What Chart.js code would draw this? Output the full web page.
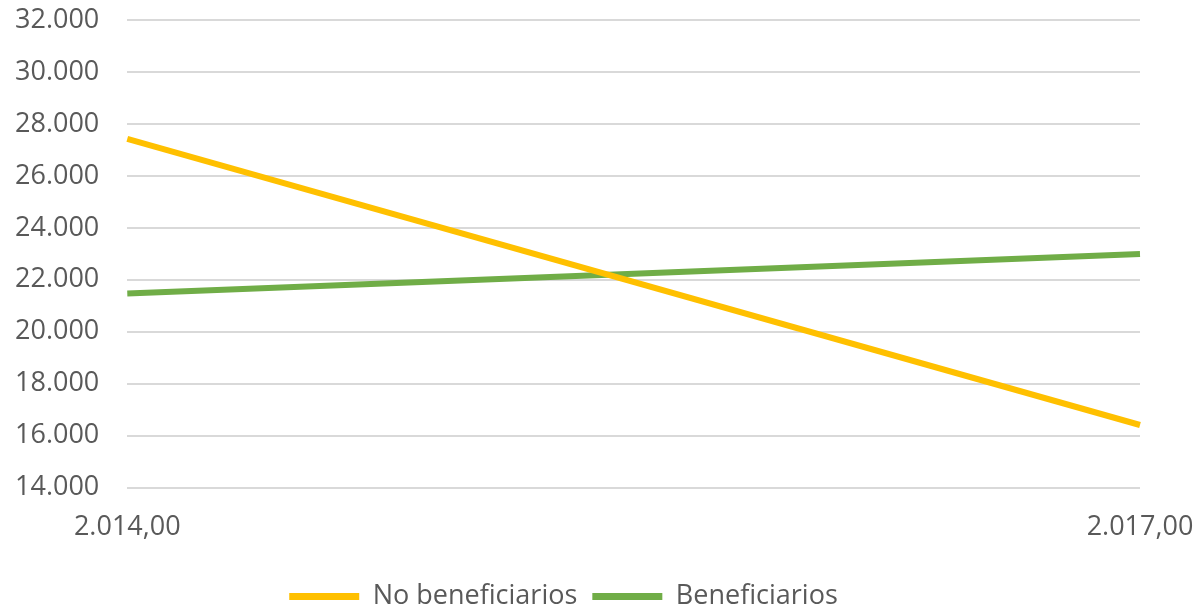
<!DOCTYPE html>
<html>
<head>
<meta charset="utf-8">
<script src="https://cdn.jsdelivr.net/npm/chart.js@4/dist/chart.umd.min.js"></script>
<style>
html,body{margin:0;padding:0;background:#fff;}
#wrap{width:1203px;height:613px;position:relative;}
</style>
</head>
<body>
<div id="wrap"><canvas id="c" width="1203" height="613"></canvas></div>
<script>
const categories = ["2.014,00", "2.017,00"];
const noBeneficiarios = [27420, 16410];
const beneficiarios = [21470, 22990];
const yTicks = [14000, 16000, 18000, 20000, 22000, 24000, 26000, 28000, 30000, 32000];

const fontFamily = "'Open Sans', 'Liberation Sans', sans-serif";
const textColor = '#595959';

function fmt(v){
  return String(v).replace(/\B(?=(\d{3})+(?!\d))/g, '.');
}

new Chart(document.getElementById('c'), {
  type: 'line',
  data: {
    labels: categories,
    datasets: [
      { label: 'No beneficiarios', data: noBeneficiarios, borderColor: '#FFC000', backgroundColor: '#FFC000', borderWidth: 6, pointRadius: 0, tension: 0 },
      { label: 'Beneficiarios', data: beneficiarios, borderColor: '#70AD47', backgroundColor: '#70AD47', borderWidth: 6, pointRadius: 0, tension: 0 }
    ]
  },
  options: {
    responsive: false,
    maintainAspectRatio: false,
    animation: false,
    layout: { padding: { left: -13, right: 63, top: 20, bottom: -7 } },
    scales: {
      x: {
        type: 'category',
        offset: false,
        grid: { display: false, drawTicks: false },
        border: { display: false },
        ticks: { color: textColor, font: { family: fontFamily, size: 27 }, padding: 24, maxRotation: 0, autoSkip: false },
        afterFit: (s) => { s.paddingLeft = 0; s.paddingRight = 0; }
      },
      y: {
        min: yTicks[0],
        max: yTicks[yTicks.length - 1],
        afterBuildTicks: (axis) => { axis.ticks = yTicks.map(v => ({ value: v })); },
        grid: { color: '#d9d9d9', lineWidth: 2, drawTicks: false },
        border: { display: false },
        ticks: { color: textColor, font: { family: fontFamily, size: 27 }, padding: 28, callback: (v) => fmt(v) },
        afterFit: (s) => { s.paddingTop = 0; s.paddingBottom = 0; }
      }
    },
    plugins: {
      legend: {
        position: 'bottom',
        labels: {
          color: textColor,
          font: { family: fontFamily, size: 27 },
          boxWidth: 70,
          boxHeight: 7,
          padding: 15,
          generateLabels: (chart) => chart.data.datasets.map((ds, i) => ({
            text: ds.label, fillStyle: ds.borderColor, strokeStyle: ds.borderColor, lineWidth: 0, datasetIndex: i, fontColor: textColor
          }))
        }
      },
      tooltip: { enabled: false }
    }
  }
});
</script>
</body>
</html>
